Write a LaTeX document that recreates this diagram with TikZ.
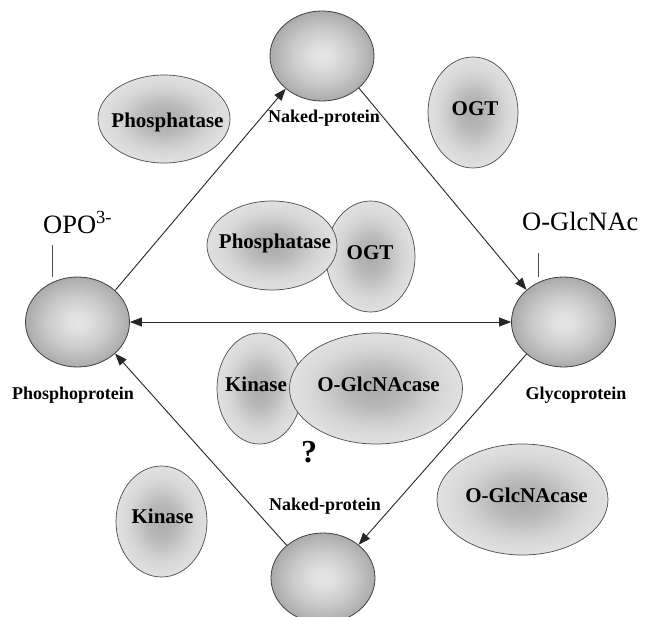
\documentclass[tikz,border=0pt]{standalone}
\usepackage{fontspec}
\setmainfont{Liberation Serif}
\usetikzlibrary{shapes.geometric,arrows.meta}
\pgfdeclareradialshading{protshade}{\pgfpoint{0bp}{0bp}}{color(0bp)=(black!10); color(5bp)=(black!12); color(15bp)=(black!21); color(25bp)=(black!33); color(50bp)=(black!33)}
\pgfdeclareradialshading{enzshade}{\pgfpoint{0bp}{0bp}}{color(0bp)=(black!33); color(8bp)=(black!28); color(18bp)=(black!16); color(25bp)=(black!12); color(50bp)=(black!12)}
\begin{document}
\begin{tikzpicture}[x=1pt,y=-1pt,
  prot/.style={shape=ellipse, draw=black!75, line width=0.8pt, shading=protshade, minimum width=104pt, minimum height=90pt, inner sep=0pt},
  enz/.style={shape=ellipse, draw=black!70, line width=0.7pt, shading=enzshade, inner sep=0pt},
  elab/.style={font=\fontsize{21}{21}\selectfont\bfseries, anchor=base, inner sep=0pt},
  plab/.style={font=\fontsize{18}{18}\selectfont\bfseries, anchor=base, inner sep=0pt},
  mlab/.style={font=\fontsize{26.5}{26.5}\selectfont, anchor=base west, inner sep=0pt},
  arr/.style={draw=black!85, line width=0.9pt, -{Triangle[length=12pt,width=9pt]}},
  dblarr/.style={draw=black!85, line width=0.9pt, {Triangle[length=12pt,width=9pt]}-{Triangle[length=12pt,width=9pt]}},
  tick/.style={draw=black!70, line width=0.7pt}
]
\clip (0,0) rectangle (650,616);
\fill[white] (0,0) rectangle (650,616);

% protein states
\node[prot] (T) at (322,56) {};
\node[prot] (L) at (77.5,322) {};
\node[prot] (R) at (563.5,322) {};
\node[prot] (B) at (323,578) {};

\node[plab] (Tl) at (324,122) {Naked-protein};
\node[plab] (Ll) at (73,399) {Phosphoprotein};
\node[plab] (Rl) at (576,399) {Glycoprotein};
\node[plab] (Bl) at (325,510) {Naked-protein};

% modification labels
\node[mlab] (opo) at (43,233) {OPO\textsuperscript{3-}};
\node[mlab] (glc) at (522,230) {O-GlcNAc};
\coordinate (tkL) at (52,245);
\coordinate (tkR) at (538,253);
\draw[tick] (tkL) -- (tkL |- L.north);
\draw[tick] (tkR) -- (tkR |- R.north);

% enzymes
\node[enz, minimum width=132pt, minimum height=88pt] (ph1) at (164,119) {};
\node[elab] (ph1t) at (167.5,127) {Phosphatase};
\node[enz, minimum width=90pt, minimum height=111pt] (ogt1) at (473,112.5) {};
\node[elab] (ogt1t) at (475,115) {OGT};

\node[enz, minimum width=89pt, minimum height=111pt] (ogt2) at (370.5,256.5) {};
\node[elab] (ogt2t) at (370,259) {OGT};
\node[enz, minimum width=130pt, minimum height=89pt] (ph2) at (272,245.5) {};
\node[elab] (ph2t) at (275,248) {Phosphatase};

\node[enz, minimum width=85pt, minimum height=111pt] (kin2) at (259.5,388.5) {};
\node[elab] (kin2t) at (256,391) {Kinase};
\node[enz, minimum width=173pt, minimum height=111pt] (gla2) at (376,388.5) {};
\node[elab] (gla2t) at (378.5,391) {O-GlcNAcase};
\node[font=\fontsize{32}{32}\selectfont\bfseries, anchor=base, inner sep=0pt] (q) at (309,462) {?};

\node[enz, minimum width=91pt, minimum height=111pt] (kin1) at (161.5,521.5) {};
\node[elab] (kin1t) at (162.5,523) {Kinase};
\node[enz, minimum width=171pt, minimum height=111pt] (gla1) at (522.5,499.5) {};
\node[elab] (gla1t) at (526.5,502) {O-GlcNAcase};

% arrows
\draw[arr] (L.40) -- (T.222);
\draw[arr] (T.-41) -- (R.139);
\draw[arr] (R.221) -- (B.43);
\draw[arr] (B.138) -- (L.-40);
\draw[dblarr] (L) -- (R);
\end{tikzpicture}
\end{document}
